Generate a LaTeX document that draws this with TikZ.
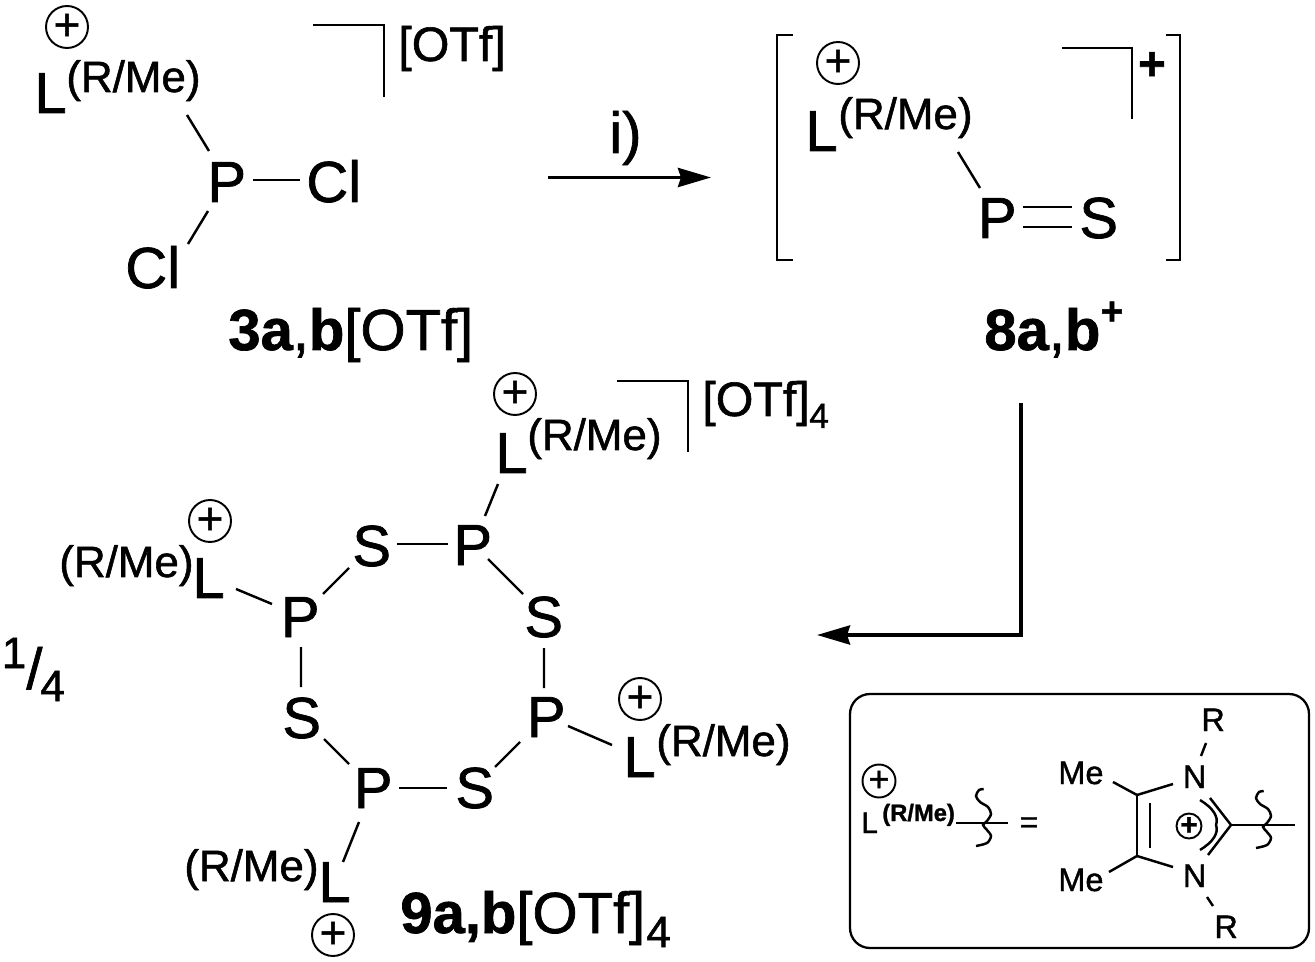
\documentclass[tikz,border=0pt]{standalone}
\usepackage{fontspec}
\setmainfont{Liberation Sans}[RawFeature={embolden=1.2}]
\usetikzlibrary{arrows.meta}

\begin{document}
\begin{tikzpicture}[x=0.02cm,y=-0.02cm]
\tikzstyle{atom}=[inner sep=0,anchor=base west,font=\fontsize{33}{36}\selectfont]
\tikzstyle{rme}=[inner sep=0,anchor=base west,font=\fontsize{25}{28}\selectfont]
\tikzstyle{salt}=[inner sep=0,anchor=base west,font=\fontsize{27.5}{30}\selectfont]
\tikzstyle{small}=[inner sep=0,anchor=base west,font=\fontsize{18.5}{20}\selectfont]
\tikzstyle{charge}=[circle,draw,inner sep=0,minimum size=0.84cm,line width=1.1pt,font=\fontsize{26}{28}\selectfont]
\tikzstyle{bond}=[line width=1.4pt]
\tikzstyle{thin}=[line width=1.3pt]
\tikzstyle{react}=[line width=2.2pt,-{Stealth[length=0.66cm,width=0.38cm,inset=0.06cm]}]
\useasboundingbox (0,0) rectangle (1315,962);

% 3a,b
\node [charge] (ca) at (67,27) {+};
\node [atom] (La) at (34,113) {L};
\node [rme] (Ra) at (66,92) {(R/Me)};
\node [atom] (Pa) at (207,202) {P};
\node [atom] (ClA) at (306,202) {Cl};
\node [atom] (ClB) at (125,288) {Cl};
\node [salt] (OTfa) at (398,61) {[OTf]};
\node [atom] (namea) at (228,350) {\textbf{3a},\textbf{b}[OTf]};
\draw [bond] ([shift={(121,23)}]Ra.base west) -- ([shift={(2,-51)}]Pa.base west);
\draw [bond] ([shift={(46,-22)}]Pa.base west) -- ([shift={(-6,-22)}]ClA.base west);
\draw [bond] ([shift={(1,9)}]Pa.base west) -- ([shift={(63,-44)}]ClB.base west);
\draw [thin] (313,25) -- (384,25) -- (384,97);

% i)
\coordinate (starti) at (548,177.5);
\coordinate (endi) at (711,177.5);
\draw [react] (starti) -- (endi);
\node [atom] (stepi) at (609,153) {i)};

% 8a,b
\node [charge] (cb) at (838,63) {+};
\node [atom] (Lb) at (805,151) {L};
\node [rme] (Rb) at (838,129) {(R/Me)};
\node [atom] (Pb) at (977.5,238) {P};
\node [atom] (Sb) at (1079,238) {S};
\node [inner sep=0,font=\fontsize{27}{30}\selectfont\bfseries] (plusb) at (1152,66) {+};
\node [atom] (nameb) at (984,350) {\textbf{8a},\textbf{b}};
\node [inner sep=0,font=\fontsize{22}{24}\selectfont\bfseries] (plusn) at (1112,313) {+};
\draw [bond] ([shift={(120,23)}]Rb.base west) -- ([shift={(2.5,-50)}]Pb.base west);
\draw [bond] ([shift={(45.5,-31)}]Pb.base west) -- ([shift={(-7,-31)}]Sb.base west);
\draw [bond] ([shift={(45.5,-11)}]Pb.base west) -- ([shift={(-7,-11)}]Sb.base west);
\draw [thin] (793,35) -- (777,35) -- (777,260) -- (793,260);
\draw [thin] (1166,35) -- (1180,35) -- (1180,260) -- (1166,260);
\draw [thin] (1062,48) -- (1132,48) -- (1132,119);

% down to 9a,b
\coordinate (startii) at (1021,403);
\coordinate (endii) at (817,635);
\draw [react] (startii) |- (endii);

% 9a,b
\node [atom] (P1) at (453,565) {P};
\node [atom] (S1) at (524,637) {S};
\node [atom] (P2) at (526.5,737) {P};
\node [atom] (S2) at (455,808) {S};
\node [atom] (P3) at (353.5,808) {P};
\node [atom] (S3) at (282,738) {S};
\node [atom] (P4) at (280.5,637) {P};
\node [atom] (S4) at (352,566) {S};
\draw [bond] ([shift={(35,-6)}]P1.base west) -- ([shift={(-1,-43)}]S1.base west);
\draw [bond] ([shift={(20,11)}]S1.base west) -- ([shift={(17.5,-49)}]P2.base west);
\draw [bond] ([shift={(-6.5,5)}]P2.base west) -- ([shift={(40,-41)}]S2.base west);
\draw [bond] ([shift={(-8,-20)}]S2.base west) -- ([shift={(45.5,-20)}]P3.base west);
\draw [bond] ([shift={(42,1)}]S3.base west) -- ([shift={(-4.5,-44)}]P3.base west);
\draw [bond] ([shift={(20.5,10)}]P4.base west) -- ([shift={(19,-51)}]S3.base west);
\draw [bond] ([shift={(42.5,-43)}]P4.base west) -- ([shift={(-3,2)}]S4.base west);
\draw [bond] ([shift={(45,-22)}]S4.base west) -- ([shift={(-5,-21)}]P1.base west);

\node [charge] (c1) at (515,394) {+};
\node [atom] (L1) at (495,473) {L};
\node [rme] (R1) at (527,450) {(R/Me)};
\node [salt] (OTf1) at (702,416) {[OTf]};
\node [inner sep=0,anchor=base west,font=\fontsize{20}{22}\selectfont] (four1) at (809,428) {4};
\draw [bond] ([shift={(3,11)}]L1.base west) -- ([shift={(32,-49)}]P1.base west);
\draw [thin] (617,381) -- (688,381) -- (688,452);

\node [charge] (c2) at (640,699) {+};
\node [atom] (L2) at (623,777) {L};
\node [rme] (R2) at (656,756) {(R/Me)};
\draw [bond] ([shift={(41.5,-11)}]P2.base west) -- ([shift={(-11,-32)}]L2.base west);

\node [charge] (c3) at (333,935) {+};
\node [atom] (L3) at (318,902) {L};
\node [rme] (R3) at (184,881) {(R/Me)};
\draw [bond] ([shift={(5.5,14)}]P3.base west) -- ([shift={(25,-40)}]L3.base west);

\node [charge] (c4) at (210,521) {+};
\node [atom] (L4) at (192,598) {L};
\node [rme] (R4) at (59,577) {(R/Me)};
\draw [bond] ([shift={(44,-9)}]L4.base west) -- ([shift={(-8.5,-33)}]P4.base west);

\node [rme] (one) at (1.5,668) {1};
\node [atom] (slash) at (26,689) {/};
\node [rme] (four) at (40,701) {4};
\node [atom] (namec) at (400,933) {\textbf{9a,b}[OTf]};
\node [rme] (fourc) at (646,947) {4};

% legend
\draw [line width=1.3pt,rounded corners=0.4cm] (850,694) rectangle (1309,948);
\node [charge,minimum size=0.66cm,font=\fontsize{20}{22}\selectfont] (cl) at (879,781) {+};
\node [inner sep=0,anchor=base west,font=\fontsize{17}{19}\selectfont] (Ll) at (861,833) {L};
\node [inner sep=0,anchor=base west,font=\fontsize{13.5}{15}\selectfont\bfseries] (Rl) at (882,821) {(R/Me)};
\node [inner sep=0,font=\fontsize{18}{20}\selectfont] (eq) at (1029,825) {=};
\node [small] (N1) at (1182.5,788) {N};
\node [small] (N2) at (1182.5,887) {N};
\node [small] (Rt) at (1201,731) {R};
\node [small] (Rd) at (1214,938) {R};
\node [small] (Me1) at (1058,784) {Me};
\node [small] (Me2) at (1058,891) {Me};
\node [charge,minimum size=0.5cm,font=\fontsize{17}{19}\selectfont\bfseries] (cr) at (1189,826) {+};
\coordinate (C4) at (1137,795);
\coordinate (C5) at (1137,856);
\coordinate (C2) at (1231,825);
\coordinate (Xl) at (1008,823);
\coordinate (Xr) at (1295,825);
\draw [bond] ([shift={(1,2)}]Rl.base east) -- (Xl);
\draw [bond] (C4) -- (C5);
\draw [bond] (1150,803) -- (1150,848);
\draw [bond] ([shift={(55,-2)}]Me1.base west) -- (C4);
\draw [bond] ([shift={(51,-19)}]Me2.base west) -- (C5);
\draw [bond] (C4) -- ([shift={(-9.5,-4)}]N1.base west);
\draw [bond] (C5) -- ([shift={(-9.5,-20)}]N2.base west);
\draw [bond] ([shift={(18.5,-32)}]N1.base west) -- ([shift={(5,12)}]Rt.base west);
\draw [bond] ([shift={(24.5,10)}]N2.base west) -- ([shift={(-1,-32)}]Rd.base west);
\draw [bond] (1210,798) -- (C2) -- (1208,855);
\draw [bond] (1200,800) .. controls (1213,808) and (1219,817) .. (1216,825) .. controls (1219,833) and (1213,842) .. (1200,850);
\draw [bond] (C2) -- (Xr);
\foreach \wx/\wy in {983/823,1263/825}
  \draw [bond,shift={(\wx,\wy)}] plot [smooth] coordinates {(0.7,-34) (-4,-33) (-7,-27) (-3,-21) (5,-16) (8,-9) (4,-2) (0,2) (4,7) (8,13) (4,20) (-7,23)};
\end{tikzpicture}
\end{document}
